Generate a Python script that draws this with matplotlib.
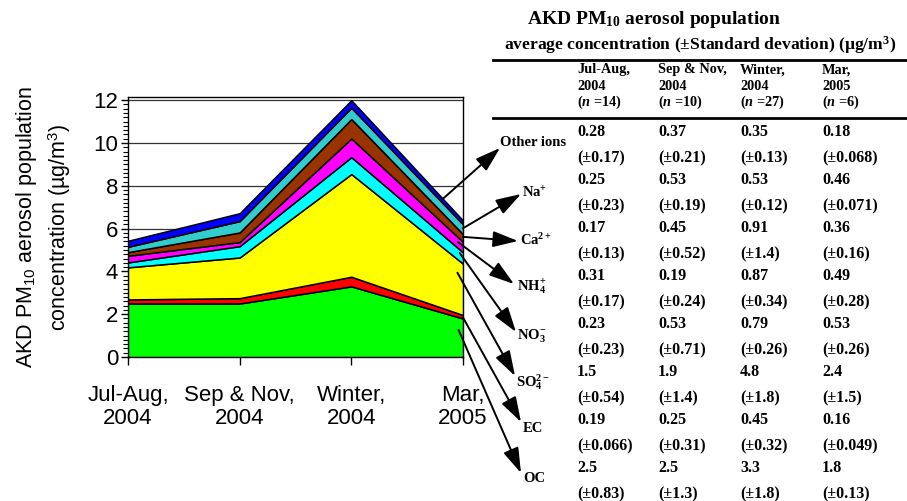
import numpy as np
import matplotlib
matplotlib.use("Agg")
import matplotlib.pyplot as plt
from matplotlib.ticker import MultipleLocator

plt.rcParams["font.family"] = ["Liberation Sans", "DejaVu Sans"]
plt.rcParams["mathtext.fontset"] = "custom"
plt.rcParams["mathtext.rm"] = "Liberation Sans"
plt.rcParams["mathtext.sf"] = "Liberation Sans"
plt.rcParams["mathtext.bf"] = "Liberation Serif:bold"
plt.rcParams["mathtext.it"] = "Liberation Serif:italic:bold"

# ---- data -------------------------------------------------------------
periods = ["Jul-Aug,\n2004", "Sep & Nov,\n2004", "Winter,\n2004", "Mar,\n2005"]
n_samples = [14, 10, 27, 6]

# components, bottom of the stack first
components = ["OC", "EC", "SO4", "NO3", "NH4", "Ca", "Na", "Other"]
oc_mean = [2.5, 2.5, 3.3, 1.8]
oc_sd = [0.83, 1.3, 1.8, 0.13]
ec_mean = [0.19, 0.25, 0.45, 0.16]
ec_sd = [0.066, 0.31, 0.32, 0.049]
so4_mean = [1.5, 1.9, 4.8, 2.4]
so4_sd = [0.54, 1.4, 1.8, 1.5]
no3_mean = [0.23, 0.53, 0.79, 0.53]
no3_sd = [0.23, 0.71, 0.26, 0.26]
nh4_mean = [0.31, 0.19, 0.87, 0.49]
nh4_sd = [0.17, 0.24, 0.34, 0.28]
ca_mean = [0.17, 0.45, 0.91, 0.36]
ca_sd = [0.13, 0.52, 1.4, 0.16]
na_mean = [0.25, 0.53, 0.53, 0.46]
na_sd = [0.23, 0.19, 0.12, 0.071]
other_mean = [0.28, 0.37, 0.35, 0.18]
other_sd = [0.17, 0.21, 0.13, 0.068]

means = [oc_mean, ec_mean, so4_mean, no3_mean, nh4_mean, ca_mean, na_mean, other_mean]
sds = [oc_sd, ec_sd, so4_sd, no3_sd, nh4_sd, ca_sd, na_sd, other_sd]

colors = ["#00FF00", "#FF0000", "#FFFF00", "#00FFFF", "#FF00FF",
          "#993300", "#33CCCC", "#0000FF"]

labels_math = [r"OC", r"EC",
               r"SO$_{\mathbf{4}}^{\mathbf{2-}}$",
               r"NO$_{\mathbf{3}}^{\mathbf{-}}$",
               r"NH$_{\mathbf{4}}^{\mathbf{+}}$",
               r"Ca$^{\mathbf{2+}}$",
               r"Na$^{\mathbf{+}}$",
               r"Other ions"]

# ---- figure -----------------------------------------------------------
W, H = 907, 501
fig = plt.figure(figsize=(W / 100, H / 100), dpi=100)


def fpos(px, py):
    """pixel position (from top-left) -> figure fraction"""
    return px / W, 1 - py / H


ax = fig.add_axes([128 / W, 1 - 357 / H, (463 - 128) / W, (357 - 97) / H])
x = np.arange(len(periods))
ax.stackplot(x, *means, colors=colors, edgecolor="black", linewidth=1.1, zorder=3)

ax.set_xlim(0, 3)
ax.set_ylim(0, 12.15)
ax.set_yticks(np.arange(0, 13, 2))
ax.yaxis.set_minor_locator(MultipleLocator(0.2))
ax.set_xticks(x)
ax.set_xticklabels(periods, fontsize=16, linespacing=1.15)
ax.tick_params(axis="y", labelsize=16, length=5, width=1, pad=2)
ax.tick_params(axis="y", which="minor", length=3.5, width=0.8)
ax.tick_params(axis="x", length=6, width=1, pad=14)
ax.grid(axis="y", color="#333333", linewidth=0.9, zorder=0)
for s in ax.spines.values():
    s.set_linewidth(1.0)

ax.set_ylabel("AKD PM$_{10}$ aerosol population\nconcentration (µg/m$^3$)",
              fontsize=15.5, linespacing=1.35, labelpad=15)

# ---- table ------------------------------------------------------------
serif = ["Liberation Serif", "DejaVu Serif"]
tkw = dict(family=serif, fontweight="bold", color="black")

fig.text(*fpos(527, 20), r"AKD PM$_{\mathbf{10}}$ aerosol population",
         ha="left", va="center", fontsize=14, **tkw)
fig.text(*fpos(504, 45),
         r"average concentration (±Standard devation) (µg/m$^{\mathbf{3}}$)",
         ha="left", va="center", fontsize=12.6, **tkw)

fig.add_artist(plt.Line2D([493 / W, 1], [1 - 60 / H] * 2, color="black",
                          linewidth=2, transform=fig.transFigure))
fig.add_artist(plt.Line2D([493 / W, 1], [1 - 118 / H] * 2, color="black",
                          linewidth=2, transform=fig.transFigure))

col_x = [577, 658, 740, 822]
for cx, per, n in zip(col_x, periods, n_samples):
    head = per.split("\n")
    for k, line in enumerate(head + [r"($\mathit{n}$ =%d)" % n]):
        fig.text(*fpos(cx, 70 + 16 * k), line, ha="left", va="center",
                 fontsize=10.3, **tkw)

# rows: top of the table is the top of the stack
row0 = 132
for r, idx in enumerate(range(len(components) - 1, -1, -1)):
    y_mean = row0 + 48 * r
    for cx, m, s in zip(col_x, means[idx], sds[idx]):
        fig.text(*fpos(cx, y_mean), f"{m}", ha="left", va="center",
                 fontsize=11.5, **tkw)
        fig.text(*fpos(cx, y_mean + 26), f"(±{s})", ha="left", va="center",
                 fontsize=11.5, **tkw)

# ---- component labels with arrows --------------------------------------
# (label left x, label y) in pixels; arrow start as (x on axis, fraction in layer)
label_pos = {"Other": (500, 143), "Na": (522, 193), "Ca": (520, 240),
             "NH4": (517, 287), "NO3": (517, 336), "SO4": (516, 382),
             "EC": (523, 429), "OC": (523, 478)}
arrow_tip = {"Other": (500, 148), "Na": (521, 194), "Ca": (518, 241),
             "NH4": (514, 284), "NO3": (516, 332), "SO4": (515, 376),
             "EC": (521, 422), "OC": (521, 473)}
arrow_from = {"Other": (2.82, 1.0), "Na": (3.0, 0.6), "Ca": (3.0, 0.65),
              "NH4": (2.955, 0.55), "NO3": (2.97, 0.7), "SO4": (2.95, 0.75),
              "EC": (3.0, 0.3), "OC": (2.96, 0.68)}

cum = np.cumsum(np.array(means), axis=0)
bottoms = np.vstack([np.zeros(len(x)), cum[:-1]])
for i, name in enumerate(components):
    xs, frac = arrow_from[name]
    lo = np.interp(xs, x, bottoms[i])
    hi = np.interp(xs, x, cum[i])
    ys = lo + frac * (hi - lo)
    ax.annotate("", xy=fpos(*arrow_tip[name]), xycoords="figure fraction",
                xytext=(xs, ys), textcoords="data", annotation_clip=False,
                arrowprops=dict(arrowstyle="-|>,head_length=1.1,head_width=0.35",
                                mutation_scale=14, color="black", lw=1.4,
                                shrinkA=0, shrinkB=0), zorder=5)
    lx, ly = label_pos[name]
    fig.text(*fpos(lx, ly), labels_math[i], ha="left", va="center",
             fontsize=10.5, **tkw)

fig.savefig("out.png", dpi=100)
